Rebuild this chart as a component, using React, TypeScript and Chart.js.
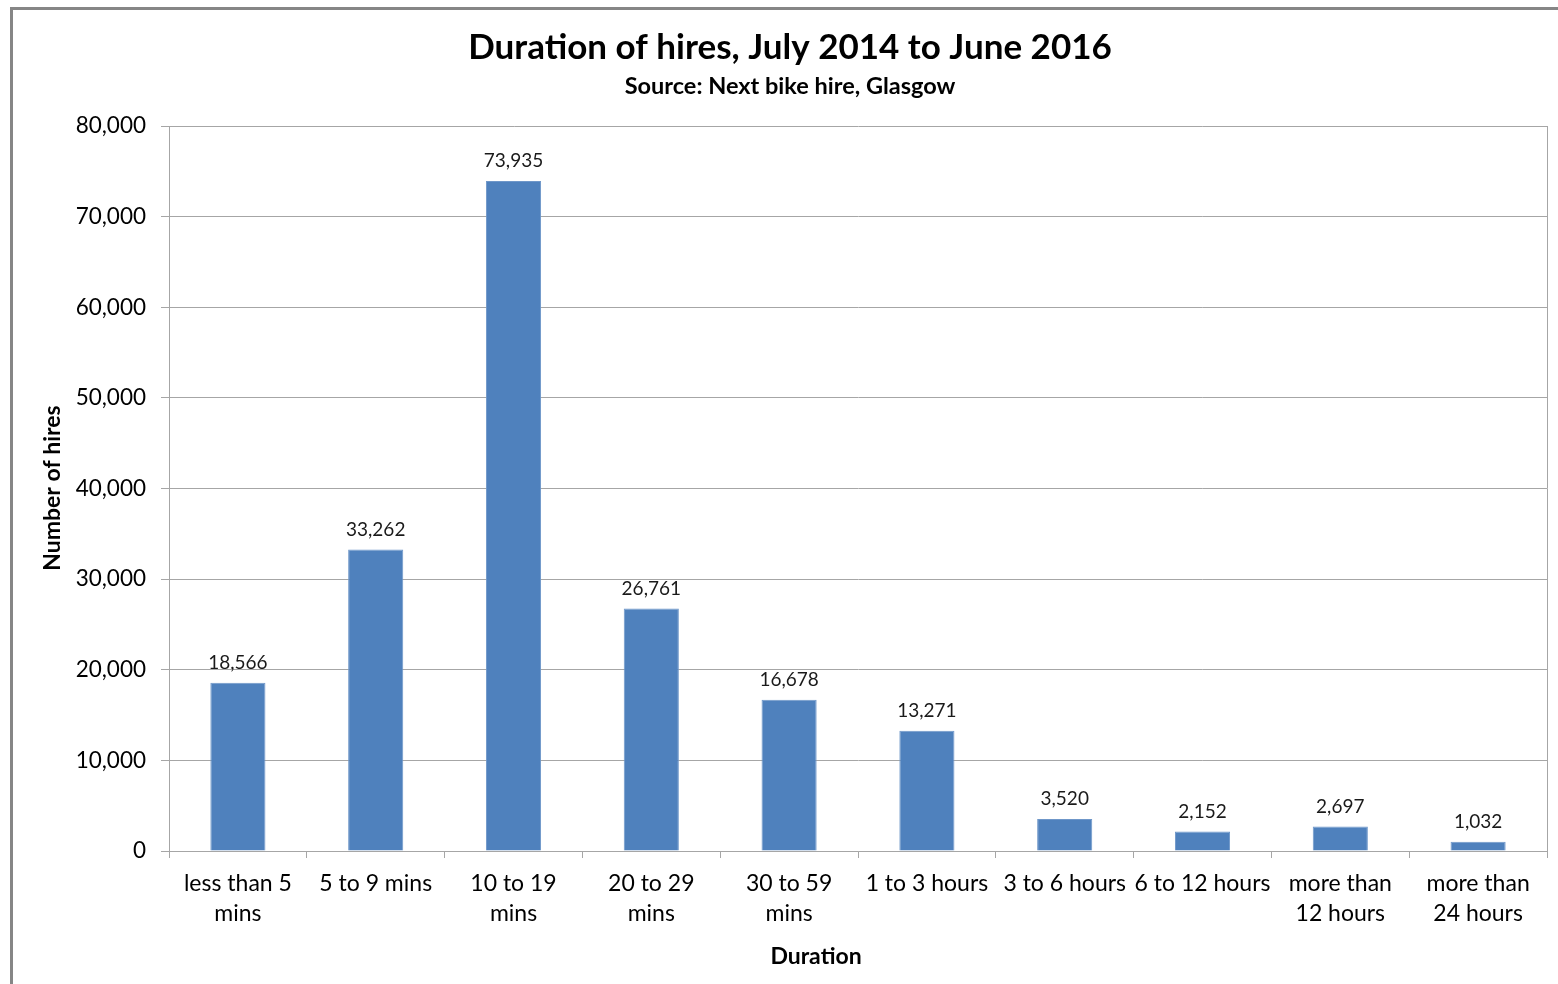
import React, { useEffect, useRef } from "react";
import { Chart, registerables } from "chart.js";

Chart.register(...registerables);

const categories: string[][] = [
  ["less than 5", "mins"],
  ["5 to 9 mins"],
  ["10 to 19", "mins"],
  ["20 to 29", "mins"],
  ["30 to 59", "mins"],
  ["1 to 3 hours"],
  ["3 to 6 hours"],
  ["6 to 12 hours"],
  ["more than", "12 hours"],
  ["more than", "24 hours"],
];
const hires: number[] = [18566, 33262, 73935, 26761, 16678, 13271, 3520, 2152, 2697, 1032];
const yMin = 0;
const yMax = 80000;
const yStep = 10000;
const titleText = "Duration of hires, July 2014 to June 2016";
const subtitleText = "Source: Next bike hire, Glasgow";
const yTitleText = "Number of hires";
const xTitleText = "Duration";

const FONT = "Lato, 'Open Sans', sans-serif";
const GRID = "#a6a6a6";
const BAR = "#4f81bd";

const fmt = (v: number) => v.toLocaleString("en-US");

const decorPlugin = {
  id: "decor",
  beforeDraw(chart: any) {
    const ctx = chart.ctx;
    ctx.save();
    ctx.fillStyle = "#ffffff";
    ctx.fillRect(0, 0, chart.width, chart.height);
    ctx.fillStyle = "#868686";
    ctx.fillRect(10, 7, 3, chart.height - 7);
    ctx.fillRect(10, 7, chart.width - 10, 3);
    ctx.restore();
  },
  afterDraw(chart: any) {
    const ctx = chart.ctx;
    const area = chart.chartArea;
    ctx.save();
    ctx.strokeStyle = GRID;
    ctx.lineWidth = 1;
    ctx.beginPath();
    ctx.moveTo(Math.round(area.right) + 0.5, area.top);
    ctx.lineTo(Math.round(area.right) + 0.5, area.bottom);
    ctx.stroke();

    ctx.fillStyle = "#000000";
    ctx.textAlign = "center";
    ctx.textBaseline = "middle";
    ctx.font = `bold 35px ${FONT}`;
    ctx.fillText(titleText, 790, 48);
    ctx.font = `bold 23.5px ${FONT}`;
    ctx.fillText(subtitleText, 790, 86);

    ctx.font = `bold 23px ${FONT}`;
    ctx.fillText(xTitleText, 816, 957);

    ctx.save();
    ctx.translate(53, 488);
    ctx.rotate(-Math.PI / 2);
    ctx.fillText(yTitleText, 0, 0);
    ctx.restore();

    const meta = chart.getDatasetMeta(0);
    ctx.font = `19px ${FONT}`;
    ctx.fillStyle = "#1a1a1a";
    meta.data.forEach((bar: any, i: number) => {
      ctx.fillText(fmt(hires[i]), bar.x, bar.y - 20);
    });
    ctx.restore();
  },
};

export default function App() {
  const ref = useRef<HTMLCanvasElement | null>(null);
  useEffect(() => {
    if (!ref.current) return;
    const chart = new Chart(ref.current, {
      type: "bar",
      data: {
        labels: categories,
        datasets: [
          {
            data: hires,
            backgroundColor: BAR,
            borderColor: "#6f97c9",
            borderWidth: 1,
            categoryPercentage: 1,
            barPercentage: 0.4,
          },
        ],
      },
      options: {
        animation: false,
        responsive: false,
        devicePixelRatio: 1,
        layout: { padding: { left: 0, right: 11, top: 126, bottom: 43 } },
        plugins: {
          legend: { display: false },
          tooltip: { enabled: false },
          title: { display: false },
        },
        scales: {
          x: {
            grid: {
              display: true,
              drawOnChartArea: false,
              drawTicks: true,
              tickLength: 7,
              color: GRID,
              offset: true,
            },
            border: { color: GRID, width: 1 },
            ticks: {
              color: "#000000",
              font: { family: FONT, size: 23, lineHeight: 1.3 },
              padding: 11,
              maxRotation: 0,
              autoSkip: false,
            },
            afterFit(scale: any) {
              scale.height = 90;
            },
          },
          y: {
            min: yMin,
            max: yMax,
            grid: {
              color: GRID,
              tickLength: 8,
              drawTicks: true,
            },
            border: { color: GRID, width: 1 },
            ticks: {
              stepSize: yStep,
              color: "#000000",
              font: { family: FONT, size: 22.5 },
              padding: 15,
              callback: (v: any) => fmt(Number(v)),
            },
            afterFit(scale: any) {
              scale.width = 169;
            },
          },
        },
      },
      plugins: [decorPlugin],
    });
    return () => chart.destroy();
  }, []);
  return (
    <div style={{ position: "fixed", left: 0, top: 0, width: 1558, height: 984, background: "#fff" }}>
      <canvas ref={ref} width={1558} height={984} style={{ width: 1558, height: 984, display: "block" }} />
    </div>
  );
}
